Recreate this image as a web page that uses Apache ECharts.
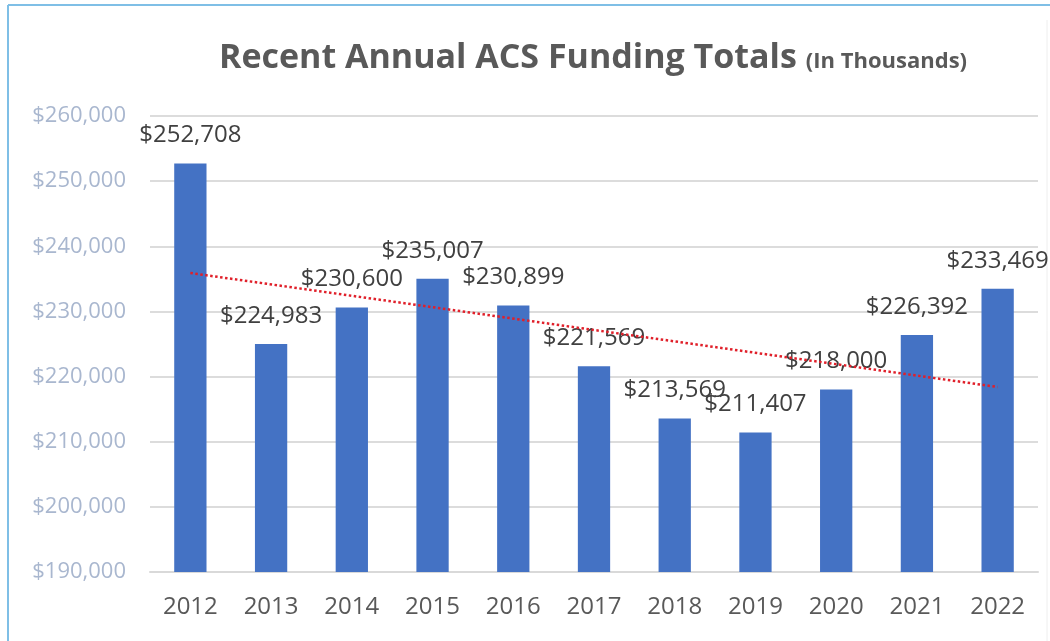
<!DOCTYPE html>
<html>
<head>
<meta charset="utf-8">
<script src="https://cdn.jsdelivr.net/npm/echarts@6/dist/echarts.min.js"></script>
<style>
  html, body { margin: 0; padding: 0; background: #ffffff; }
  #chart { width: 1050px; height: 641px; }
</style>
</head>
<body>
<div id="chart"></div>
<script>
const years = ['2012','2013','2014','2015','2016','2017','2018','2019','2020','2021','2022'];
const funding = [252708, 224983, 230600, 235007, 230899, 221569, 213569, 211407, 218000, 226392, 233469];
// Trend line end points (2012 and 2022)
const trendYears = ['2012', '2022'];
const trendValues = [235900, 218400];
const yTicks = { min: 190000, max: 260000, interval: 10000 };

function money(v) {
  return '$' + Math.round(v).toString().replace(/\B(?=(\d{3})+(?!\d))/g, ',');
}

const chart = echarts.init(document.getElementById('chart'), null, { renderer: 'canvas' });
chart.setOption({
  backgroundColor: '#ffffff',
  animation: false,
  graphic: [
    { type: 'line', shape: { x1: 8, y1: 5, x2: 1050, y2: 5 }, style: { stroke: '#7fbfe6', lineWidth: 2 } },
    { type: 'line', shape: { x1: 8, y1: 5, x2: 8, y2: 641 }, style: { stroke: '#7fbfe6', lineWidth: 2 } },
    { type: 'line', shape: { x1: 1047, y1: 20, x2: 1047, y2: 641 }, style: { stroke: '#eeeeee', lineWidth: 1 } }
  ],
  title: {
    text: '{a|Recent Annual ACS Funding Totals} {b|(In Thousands)}',
    left: 588,
    top: 36,
    textAlign: 'center',
    textStyle: {
      rich: {
        a: { fontFamily: 'Open Sans', fontWeight: 'bold', fontSize: 34, color: '#595959' },
        b: { fontFamily: 'Open Sans', fontWeight: 'bold', fontSize: 22, color: '#595959', padding: [7, 0, 0, 4] }
      }
    }
  },
  grid: { left: 150, right: 12, top: 116, bottom: 69, containLabel: false },
  xAxis: {
    type: 'category',
    data: years,
    axisLine: { show: true, lineStyle: { color: '#d9d9d9', width: 2 } },
    axisTick: { show: false },
    axisLabel: { color: '#595959', fontFamily: 'Open Sans', fontSize: 24, margin: 23 }
  },
  yAxis: {
    type: 'value',
    min: yTicks.min,
    max: yTicks.max,
    interval: yTicks.interval,
    axisLine: { show: false },
    axisTick: { show: false },
    splitLine: { lineStyle: { color: '#dcdcdc', width: 2 } },
    axisLabel: { color: '#a9b7cf', fontFamily: 'Open Sans', fontSize: 22, margin: 24, formatter: money }
  },
  series: [
    {
      type: 'bar',
      data: funding,
      barWidth: '40%',
      itemStyle: { color: '#4472c4' },
      label: {
        show: true,
        position: 'top',
        distance: 16,
        color: '#404040',
        fontFamily: 'Open Sans',
        fontSize: 24,
        formatter: p => money(p.value)
      },
      z: 2
    },
    {
      type: 'line',
      data: trendYears.map((y, i) => [y, trendValues[i]]),
      symbol: 'none',
      lineStyle: { color: '#e0202a', width: 2.5, type: 'dotted' },
      z: 3
    }
  ]
});
</script>
</body>
</html>
